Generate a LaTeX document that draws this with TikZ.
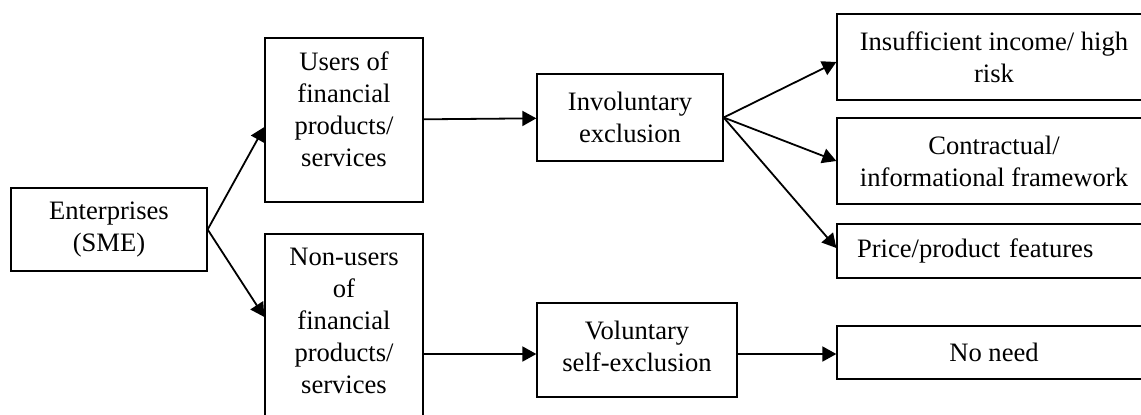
\documentclass[tikz,border=0pt]{standalone}
\usepackage{fontspec}
\setmainfont{Liberation Serif}
\usetikzlibrary{arrows.meta}
\usetikzlibrary{positioning}

\begin{document}
\begin{tikzpicture}[x=0.5pt,y=-0.5pt,->,>={Triangle[length=7pt,width=7.5pt]},
                line width=0.9pt,box node/.style={rectangle,draw,line width=0.65pt,align=center,
                inner sep=2pt,font=\fontsize{13.3}{16}\selectfont}]

        \useasboundingbox (0,0) rectangle (1141,414);

        \node[box node,minimum width=98pt,minimum height=41.5pt] (0) at (109,229.5) {Enterprises\\(SME)};
        \node[box node,minimum width=79pt,minimum height=82pt] (1) at (344,120) {Users of\\financial\\products/\\services\\[-5pt]\mbox{}};
        \node[box node,minimum width=79pt,minimum height=98pt] (2) at (344,332) {Non-users\\of\\financial\\products/\\services\\[-5pt]\mbox{}};
        \node[box node,minimum width=93pt,minimum height=43.5pt] (3) at (630,117.5) {Involuntary\\exclusion};
        \node[box node,minimum width=100pt,minimum height=47pt] (4) at (637,350) {Voluntary\\self-exclusion\\[-12pt]\mbox{}};
        \node[box node,minimum width=157pt,minimum height=43pt] (5) at (994,57) {Insufficient income/ high\\risk};
        \node[box node,minimum width=157pt,minimum height=43pt] (6) at (994,161) {Contractual/\\informational framework};
        \node[box node,text width=137pt,align=left,inner xsep=10pt,minimum height=27pt] (7) at (994,251) {Price/product features};
        \node[box node,minimum width=157pt,minimum height=26.5pt] (8) at (994,352.5) {No need};

          \path
            (0.east)
                edge (1.west |- 0,127)
                edge (2.west |- 0,317)
            (1) edge (3)
            (2.east |- 0,354) edge (4.west |- 0,354)
            (3.east)
                edge (5.west |- 0,62)
                edge (6.west)
                edge (7.west |- 0,248)
            (4.east |- 0,354) edge (8.west |- 0,354);

\end{tikzpicture}
\end{document}
